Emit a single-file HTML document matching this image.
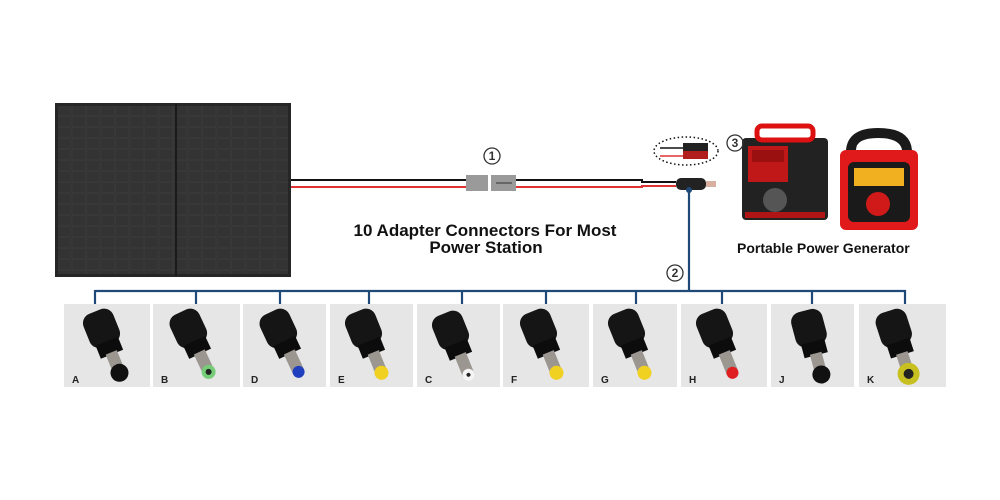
<!DOCTYPE html>
<html><head><meta charset="utf-8"><style>
html,body{margin:0;padding:0;background:#fff;}
body{width:1000px;height:500px;position:relative;overflow:hidden;font-family:"Liberation Sans",sans-serif;}
</style></head><body>
<svg width="1000" height="500" viewBox="0 0 1000 500" xmlns="http://www.w3.org/2000/svg" style="position:absolute;left:0;top:0">
<defs>
<pattern id="cells" x="57" y="105" width="14.5" height="11" patternUnits="userSpaceOnUse">
<rect width="14.5" height="11" fill="#2b2b2b"/>
<rect x="0.5" y="0.5" width="13.5" height="10" fill="#333" stroke="#3c3c3c" stroke-width="0.6"/>
</pattern>
<g id="conn">
<rect x="-16" y="-22" width="32" height="36" rx="10" fill="#151515"/>
<rect x="-12" y="10" width="24" height="14" fill="#0c0c0c"/>
<rect x="-6" y="22" width="12" height="22" fill="#9b9690"/>
</g>
</defs>
<!-- solar panel -->
<rect x="55" y="103" width="236" height="174" fill="#262626"/>
<rect x="58" y="106" width="230" height="168" fill="url(#cells)"/>
<line x1="176" y1="104" x2="176" y2="276" stroke="#1a1a1a" stroke-width="2"/>
<!-- wires -->
<polyline points="291,180 466,180" stroke="#111" stroke-width="2" fill="none"/>
<polyline points="291,187 466,187" stroke="#d33" stroke-width="2" fill="none"/>
<polyline points="516,180 642,180 642,182 676,182" stroke="#111" stroke-width="2" fill="none"/>
<polyline points="516,187 642,187 642,186 676,186" stroke="#d33" stroke-width="2" fill="none"/>
<rect x="466" y="175" width="22" height="16" fill="#9a9a9a"/>
<rect x="491" y="175" width="25" height="16" fill="#9a9a9a"/>
<line x1="496" y1="183" x2="512" y2="183" stroke="#333" stroke-width="1"/>
<rect x="676" y="178" width="30" height="12" rx="5" fill="#222"/>
<rect x="706" y="181" width="10" height="6" fill="#d8b0a0"/>
<!-- dotted oval -->
<ellipse cx="686" cy="151" rx="32" ry="14" fill="none" stroke="#111" stroke-width="1.5" stroke-dasharray="1.5,2.5"/>
<line x1="660" y1="148" x2="684" y2="148" stroke="#111" stroke-width="1.5"/>
<line x1="660" y1="156" x2="684" y2="156" stroke="#d33" stroke-width="1.5"/>
<rect x="683" y="143" width="25" height="8" fill="#222"/>
<rect x="683" y="151" width="25" height="8" fill="#b21d1d"/>
<!-- blue tree -->
<g stroke="#1f4a78" stroke-width="2.2" fill="none">
<line x1="689" y1="190" x2="689" y2="291"/>
<line x1="95" y1="291" x2="906" y2="291"/>
<line x1="95" y1="290" x2="95" y2="304"/>
<line x1="196" y1="290" x2="196" y2="304"/>
<line x1="280" y1="290" x2="280" y2="304"/>
<line x1="369" y1="290" x2="369" y2="304"/>
<line x1="462" y1="290" x2="462" y2="304"/>
<line x1="546" y1="290" x2="546" y2="304"/>
<line x1="636" y1="290" x2="636" y2="304"/>
<line x1="722" y1="290" x2="722" y2="304"/>
<line x1="812" y1="290" x2="812" y2="304"/>
<line x1="905" y1="290" x2="905" y2="304"/>
</g>
<circle cx="689" cy="190" r="3" fill="#1f4a78"/>
<!-- generators -->
<rect x="742" y="138" width="86" height="82" rx="4" fill="#222"/>
<rect x="757" y="126" width="56" height="14" rx="5" fill="none" stroke="#d11" stroke-width="5"/>
<rect x="748" y="146" width="40" height="36" fill="#c01818"/>
<rect x="752" y="150" width="32" height="12" fill="#9a1010"/>
<circle cx="775" cy="200" r="12" fill="#555"/>
<rect x="745" y="212" width="80" height="6" fill="#b01515"/>
<rect x="840" y="150" width="78" height="80" rx="6" fill="#e01a1a"/>
<path d="M846 150 Q848 128 878 128 Q910 128 912 150 L902 150 Q900 138 878 138 Q856 138 856 150Z" fill="#1a1a1a"/>
<rect x="848" y="162" width="62" height="60" rx="6" fill="#1a1a1a"/>
<rect x="854" y="168" width="50" height="18" fill="#f0b020"/>
<circle cx="878" cy="204" r="12" fill="#d01a1a"/>
<!-- tiles -->
<g fill="#e6e6e6">
<rect x="64" y="304" width="86" height="83"/>
<rect x="153" y="304" width="87" height="83"/>
<rect x="243" y="304" width="83" height="83"/>
<rect x="330" y="304" width="83" height="83"/>
<rect x="417" y="304" width="83" height="83"/>
<rect x="503" y="304" width="86" height="83"/>
<rect x="593" y="304" width="84" height="83"/>
<rect x="681" y="304" width="86" height="83"/>
<rect x="771" y="304" width="83" height="83"/>
<rect x="859" y="304" width="87" height="83"/>
</g>
<g>
<g transform="translate(103,332) rotate(-22)"><use href="#conn"/><circle cx="0" cy="44" r="9" fill="#111"/></g>
<g transform="translate(190,332) rotate(-25)"><use href="#conn"/><circle cx="0" cy="44" r="7" fill="#7c7"/><circle cx="0" cy="44" r="3" fill="#222"/></g>
<g transform="translate(280,332) rotate(-25)"><use href="#conn"/><circle cx="0" cy="44" r="6" fill="#1f3fbf"/></g>
<g transform="translate(365,332) rotate(-22)"><use href="#conn"/><circle cx="0" cy="44" r="7" fill="#f0d020"/></g>
<g transform="translate(452,334) rotate(-22)"><use href="#conn"/><circle cx="0" cy="44" r="6" fill="#f4f4f4"/><circle cx="0" cy="44" r="2" fill="#222"/></g>
<g transform="translate(540,332) rotate(-22)"><use href="#conn"/><circle cx="0" cy="44" r="7" fill="#f0d020"/></g>
<g transform="translate(628,332) rotate(-22)"><use href="#conn"/><circle cx="0" cy="44" r="7" fill="#f0d020"/></g>
<g transform="translate(716,332) rotate(-22)"><use href="#conn"/><circle cx="0" cy="44" r="6" fill="#e02020"/></g>
<g transform="translate(810,332) rotate(-15)"><use href="#conn"/><circle cx="0" cy="44" r="9" fill="#111"/></g>
<g transform="translate(895,332) rotate(-18)"><use href="#conn"/><circle cx="0" cy="44" r="11" fill="#c8c020"/><circle cx="0" cy="44" r="5" fill="#222"/></g>
</g>
<g font-family="Liberation Sans, sans-serif" font-weight="bold" font-size="10" fill="#222">
<text x="72" y="383">A</text><text x="161" y="383">B</text><text x="251" y="383">D</text>
<text x="338" y="383">E</text><text x="425" y="383">C</text><text x="511" y="383">F</text>
<text x="601" y="383">G</text><text x="689" y="383">H</text><text x="779" y="383">J</text>
<text x="867" y="383">K</text>
</g>
<!-- texts -->
<g font-family="Liberation Sans, sans-serif" fill="#111">
<text x="485" y="236" font-size="17" font-weight="bold" text-anchor="middle">10 Adapter Connectors For Most</text>
<text x="486" y="253" font-size="17" font-weight="bold" text-anchor="middle">Power Station</text>
<text x="737" y="253" font-size="14" font-weight="bold">Portable Power  Generator</text>
</g>
<g fill="none" stroke="#333" stroke-width="1.3">
<circle cx="492" cy="156" r="8"/><circle cx="675" cy="273" r="8"/><circle cx="735" cy="143" r="8"/>
</g>
<g font-family="Liberation Sans, sans-serif" font-size="12" font-weight="bold" fill="#333" text-anchor="middle">
<text x="492" y="160">1</text><text x="675" y="277">2</text><text x="735" y="147">3</text>
</g>
</svg>
</body></html>
